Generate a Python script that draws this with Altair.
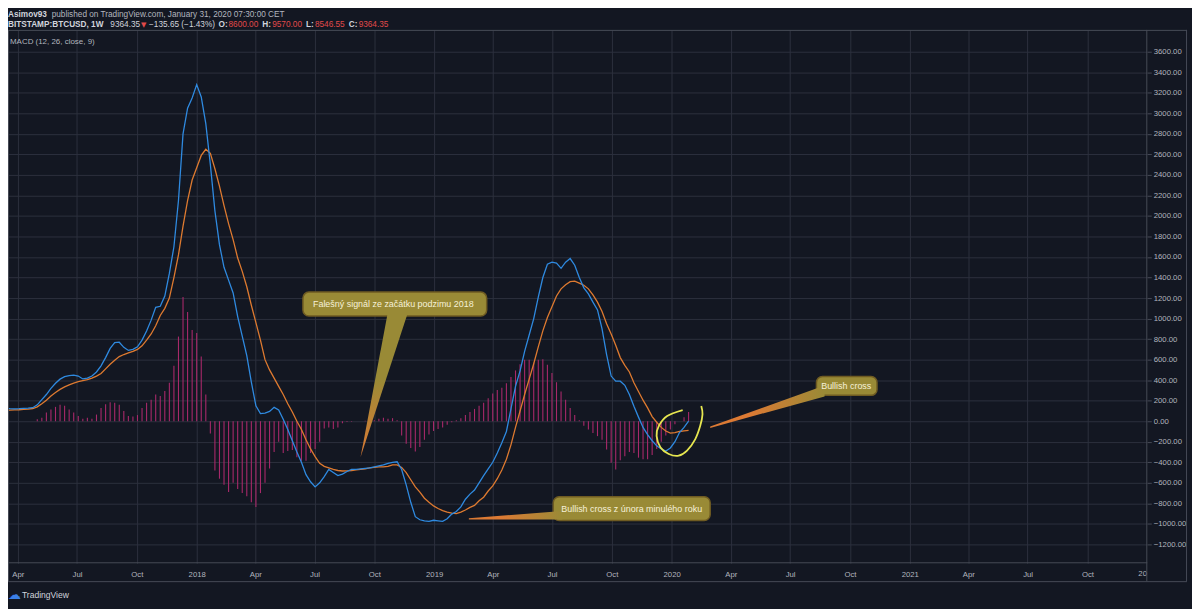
import altair as alt
import pandas as pd

# ---------------- data: weekly MACD (12, 26, close, 9) of BITSTAMP:BTCUSD ----------------
week_start = "2017-03-13"          # first weekly bar (Mondays), last bar = 2020-01-27

macd_line = [
    125, 122, 120, 122, 125, 128, 132, 160, 210, 260,
    320, 370, 410, 435, 445, 450, 440, 412, 420, 440,
    480, 540, 620, 710, 765, 770, 720, 690, 700, 725,
    790, 880, 985, 1110, 1120, 1220, 1440, 1700, 2150, 2800,
    3050, 3150, 3280, 3160, 2900, 2500, 2050, 1720, 1500, 1375,
    1250, 1020, 830, 640, 380, 150, 75, 80, 95, 135,
    110, 20, -80, -190, -300, -400, -520, -590, -640, -600,
    -540, -470, -500, -530, -515, -490, -470, -470, -465, -460,
    -455, -445, -435, -425, -410, -400, -395, -470, -620, -790,
    -930, -960, -970, -975, -965, -970, -975, -950, -905, -880,
    -835, -760, -710, -670, -600, -530, -465, -400, -310, -210,
    -100, 120, 340, 490, 680, 840, 1000, 1210, 1400, 1530,
    1550, 1540, 1490, 1550, 1585, 1520, 1400, 1300, 1240, 1160,
    1085, 900, 650, 440, 390, 390, 350, 260, 145, 40,
    -60, -130, -190, -240, -270, -290, -260, -200, -110, -60,
    0,
]

signal_line = [
    105, 108, 110, 112, 115, 118, 124, 140, 170, 205,
    245, 280, 310, 335, 355, 372, 385, 395, 405, 420,
    440, 465, 510, 555, 595, 630, 650, 665, 680, 700,
    735, 790, 850, 930, 1030, 1100, 1200, 1400, 1620, 1900,
    2150, 2350, 2470, 2590, 2650, 2610, 2460, 2290, 2100, 1925,
    1770, 1590, 1460, 1310, 1130, 960, 790, 600, 500, 420,
    340, 260, 170, 90, 0, -80, -180, -270, -345, -410,
    -440, -455, -470, -480, -485, -483, -480, -475, -470, -465,
    -455, -450, -445, -445, -440, -425, -425, -450, -500, -570,
    -640, -690, -750, -790, -825, -850, -870, -885, -895, -900,
    -885, -865, -840, -820, -775, -740, -680, -630, -560, -475,
    -370, -230, -60, 100, 260, 410, 560, 725, 880, 1010,
    1115, 1220, 1290, 1330, 1360, 1365, 1345, 1325, 1290, 1230,
    1160, 1070, 950, 850, 740, 620, 545, 480, 375, 290,
    205, 130, 45, -10, -60, -95, -115, -110, -100, -95,
    -90,
]

histogram = [
    0, 0, 0, 0, 0, 0, 0,
    20, 35, 85, 115, 140, 160, 150, 115, 85, 50,
    25, 35, 25, 65, 130, 165, 185, 180, 160, 100,
    50, 45, 60, 130, 180, 210, 260, 245, 295, 375,
    540, 825, 1210, 1065, 890, 860, 630, 260,
    -120, -480, -560, -620, -690, -600, -660, -700, -730, -790,
    -835, -700, -600, -460, -300, -200, -310, -290, -280, -350,
    -385, -385, -310, -270, -200, -70, -60, -75, -60, -20,
    -8, -5,
    0, 0, 5, 5, 10, 25, 35, 25, 30, 10,
    -140, -220, -260, -295, -250, -180, -130, -95, -75, -60, -35, -10,
    10, 30, 60, 90, 120, 150, 180, 225, 270, 305,
    325, 370, 430, 495, 555, 600, 600, 570, 600, 605,
    550, 470, 380, 290, 210, 130, 60, 10,
    -45, -80, -115, -145, -180, -275, -405, -470, -380, -340,
    -300, -310, -355, -370, -370, -330, -270, -200, -140, -80,
    -30, 0, 40, 90,
]

note_texts = [
    "Falešný signál ze začátku podzimu 2018",
    "Bullish cross z února minulého roku",
    "Bullish cross",
]

# ---------------- styles ----------------
FONT = "Liberation Sans"
BG = "#131722"
GRID = "#2c303d"
BORDER = "#474b57"
TEXT = "#b2b5be"
LIGHT = "#d1d4dc"
RED = "#e04a4a"
BLUE = "#2f8ae0"
ORANGE = "#de7a30"
HIST = "#a8296a"
OLIVE = "#998a36"
OLIVE_EDGE = "#6f5b22"
NOTE_TEXT = "#f6f1d8"
TIP = "#dc7a34"
YELLOW = "#e6e650"

W, H = 1147, 537

dates = pd.date_range(week_start, periods=len(macd_line), freq="7D")
df = pd.DataFrame({"date": dates, "macd": macd_line, "signal": signal_line, "hist": histogram})

base = pd.Timestamp("2018-01-01")


def day(d):
    return base + pd.Timedelta(days=float(d))


xscale = alt.Scale(domain=[alt.DateTime(year=2017, month=3, date=17),
                           alt.DateTime(year=2022, month=1, date=1)])
yscale = alt.Scale(domain=[-1384, 3813], nice=False, zero=False)
quarters = pd.date_range("2017-04-01", "2021-10-01", freq="QS")
xaxis = alt.Axis(
    values=[alt.DateTime(year=int(q.year), month=int(q.month), date=1) for q in quarters],
    labelExpr="month(datum.value) == 0 ? timeFormat(datum.value, '%Y') : timeFormat(datum.value, '%b')",
    grid=True, ticks=False, domain=False, labelPadding=7, labelOverlap=False,
    labelFontSize=7.8, labelColor=TEXT, labelFont=FONT, gridColor=GRID, gridWidth=1, title=None,
)
yaxis = alt.Axis(
    orient="right", values=list(range(-1200, 3601, 200)), format=".2f", grid=True,
    ticks=True, tickSize=4, tickColor=BORDER, domain=False, labelPadding=2,
    labelFontSize=7.8, labelColor=TEXT, labelFont=FONT, gridColor=GRID, gridWidth=1,
    title=None, labelOverlap=False,
)


def X(f):
    return alt.X(f"{f}:T", scale=xscale, axis=xaxis, title=None)


def Y(f):
    return alt.Y(f"{f}:Q", scale=yscale, axis=yaxis, title=None)


hist_layer = alt.Chart(df).mark_rule(color=HIST, strokeWidth=1.1, clip=True).encode(
    x=X("date"), y=Y("hist"), y2=alt.datum(0))
sig_layer = alt.Chart(df).mark_line(color=ORANGE, strokeWidth=1.3, clip=True).encode(
    x=X("date"), y=Y("signal"))
macd_layer = alt.Chart(df).mark_line(color=BLUE, strokeWidth=1.3, clip=True).encode(
    x=X("date"), y=Y("macd"))

# ---------------- annotations (dates / MACD values) ----------------
boxes_df = pd.DataFrame({
    "a": [day(163.3), day(548.0), day(952.5)],
    "b": [day(445.7), day(789.2), day(1045.6)],
    "top": [1258, -735, 435],
    "bottom": [1026, -968, 252],
})
box_layer = alt.Chart(boxes_df).mark_rect(
    fill=OLIVE, stroke=OLIVE_EDGE, strokeWidth=1.5, cornerRadius=6).encode(
    x=X("a"), x2=alt.X2("b"), y=Y("top"), y2=alt.Y2("bottom"))

fw = pd.DataFrame({"v": [1040, -348],
                   "a": [day(293.1), day(251.9)],
                   "b": [day(323.6), day(251.9)]})
grad_v = alt.Gradient(gradient="linear",
                      stops=[alt.GradientStop(color=OLIVE, offset=0),
                             alt.GradientStop(color=OLIVE, offset=0.45),
                             alt.GradientStop(color=TIP, offset=1)],
                      x1=0, x2=0, y1=0, y2=1)
wedge_v = alt.Chart(fw).mark_area(orient="horizontal", color=grad_v).encode(
    y=Y("v"), x=X("a"), x2=alt.X2("b"))

hw = pd.DataFrame({
    "id": ["z", "z", "b", "b"],
    "d": [day(418.3), day(562.0), day(789.2), day(965.0)],
    "top": [-945, -875, -52, 348],
    "bottom": [-958, -958, -65, 242],
})
grad_h = alt.Gradient(gradient="linear",
                      stops=[alt.GradientStop(color=TIP, offset=0),
                             alt.GradientStop(color=TIP, offset=0.35),
                             alt.GradientStop(color=OLIVE, offset=1)],
                      x1=0, x2=1, y1=0, y2=0)
wedge_h = alt.Chart(hw).mark_area(color=grad_h).encode(
    x=X("d"), y=Y("top"), y2=alt.Y2("bottom"), detail="id:N")

notes_df = pd.DataFrame({"d": [day(302.2), day(668.6), day(998.3)],
                         "v": [1142, -852, 344], "label": note_texts})
note_layer = alt.Chart(notes_df).mark_text(
    color=NOTE_TEXT, fontSize=9, font=FONT, align="center", baseline="middle").encode(
    x=X("d"), y=Y("v"), text="label:N")

loop_days = [746.9, 723.1, 710.3, 706.8, 712.9, 725.5, 740.8, 753.6, 766.3, 773.9, 777.4, 775.5]
loop_vals = [109, 51, -45, -142, -255, -319, -336, -287, -174, -45, 68, 148]
loop_df = pd.DataFrame({"d": [day(x) for x in loop_days], "v": loop_vals,
                        "i": list(range(len(loop_days)))})
loop_layer = alt.Chart(loop_df).mark_line(
    color=YELLOW, strokeWidth=1.8, interpolate="cardinal").encode(
    x=X("d"), y=Y("v"), order="i:Q")

# ---------------- header / footer texts and frame ----------------
one = pd.DataFrame({"_": [0]})


def label(text, x, y, color=TEXT, size=8.3, weight="normal", font=FONT, baseline="alphabetic"):
    return alt.Chart(one).mark_text(
        text=text, color=color, fontSize=size, fontWeight=weight, font=font,
        align="left", baseline=baseline).encode(x=alt.value(x), y=alt.value(y))


L2 = -2.5
texts = [
    label("Asimov93", 0, -12.5, LIGHT, weight="bold"),
    label("published on TradingView.com, January 31, 2020 07:30:00 CET", 44, -12.5, TEXT),
    label("BITSTAMP:BTCUSD, 1W", 0, L2, LIGHT, weight="bold"),
    label("9364.35", 103, L2, LIGHT),
    label("▼", 134, L2, RED, size=7, font="DejaVu Sans"),
    label("−135.65 (−1.43%)", 142, L2, LIGHT),
    label("O:", 212, L2, LIGHT, weight="bold"),
    label("8600.00", 222, L2, RED),
    label("H:", 256, L2, LIGHT, weight="bold"),
    label("9570.00", 266, L2, RED),
    label("L:", 300, L2, LIGHT, weight="bold"),
    label("8546.55", 309, L2, RED),
    label("C:", 343, L2, LIGHT, weight="bold"),
    label("9364.35", 353, L2, RED),
    label("MACD (12, 26, close, 9)", 2, 12, TEXT, size=8, baseline="middle"),
    label("20", 1138, 548, TEXT, size=7.8, baseline="middle"),
    label("☁", 0, 569, "#3b7fe6", size=13, font="DejaVu Sans", baseline="middle"),
    label("TradingView", 14, 569, LIGHT, size=8.6, baseline="middle"),
]


def hrule(x1, x2, y):
    return alt.Chart(one).mark_rule(color=BORDER, strokeWidth=1).encode(
        x=alt.value(x1), x2=alt.value(x2), y=alt.value(y))


def vrule(x, y1, y2):
    return alt.Chart(one).mark_rule(color=BORDER, strokeWidth=1).encode(
        x=alt.value(x), y=alt.value(y1), y2=alt.value(y2))


frame = [
    hrule(0, 1187, 0.5),
    hrule(0, 1147, H - 0.5),
    hrule(0, 1187, 555.5),
    vrule(0.5, 0, 555),
    vrule(W - 0.5, 0, 555),
    vrule(1186.5, 0, 555),
]

chart = alt.layer(
    hist_layer, sig_layer, macd_layer,
    box_layer, wedge_v, wedge_h, note_layer, loop_layer,
    *texts, *frame,
).properties(
    width=W, height=H,
    padding={"left": 0, "top": 20, "right": 45, "bottom": 44},
    autosize=alt.AutoSizeParams(type="none"),
    background=BG,
).configure_view(stroke=None)

chart.save("out.html", embed_options={"renderer": "svg", "actions": False})
